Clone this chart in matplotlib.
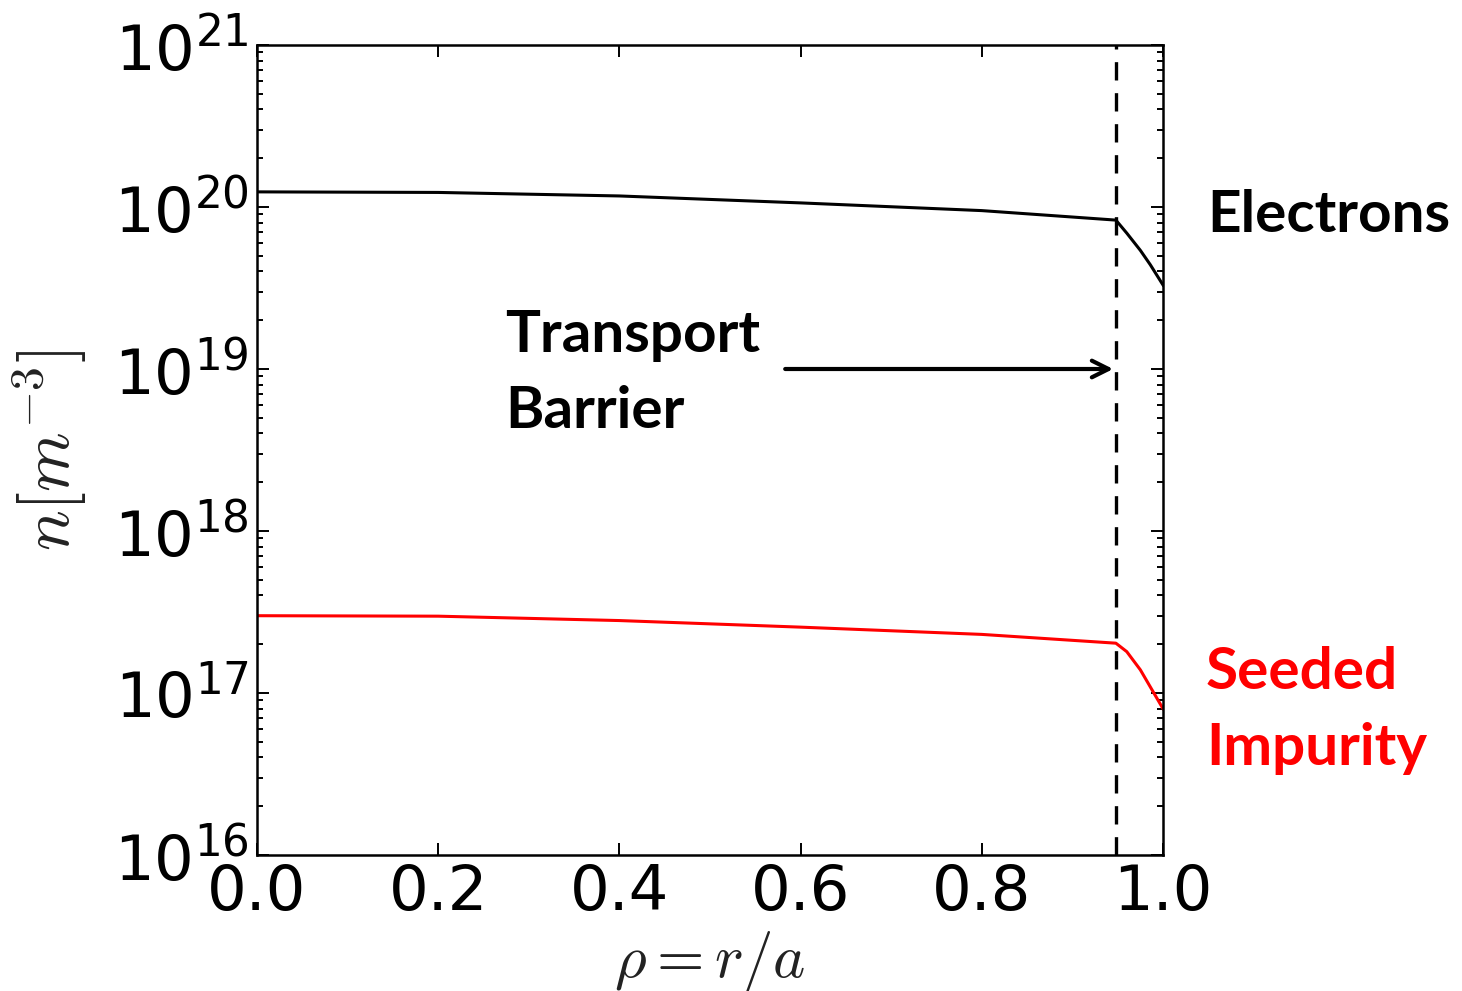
import numpy as np
import matplotlib
matplotlib.use("Agg")
import matplotlib.pyplot as plt

# radial density profiles, rho = r/a
rho = [0.0, 0.2, 0.4, 0.6, 0.8, 0.948, 0.96, 0.975, 0.986, 1.0]
n_e = [1.24e20, 1.23e20, 1.17e20, 1.06e20, 0.95e20, 8.3e19, 6.9e19, 5.4e19, 4.4e19, 3.3e19]
n_imp = [3.0e17, 2.98e17, 2.8e17, 2.55e17, 2.3e17, 2.03e17, 1.80e17, 1.39e17, 1.09e17, 0.80e17]
RHO_BARRIER = 0.948
XTICKS = [0.0, 0.2, 0.4, 0.6, 0.8, 1.0]

W, H = 1462, 991
fig = plt.figure(figsize=(W/100, H/100), dpi=100, facecolor="white")
ax = fig.add_axes([257/W, 1-855/H, (1163-257)/W, (855-45)/H])

ax.plot(rho, n_e, color="black", lw=2.2)
ax.plot(rho, n_imp, color="red", lw=2.2)
ax.axvline(RHO_BARRIER, color="black", lw=2.4, dashes=(5.5, 3.8))

ax.set_yscale("log")
ax.set_xlim(0, 1.0)
ax.set_ylim(1e16, 1e21)
ax.set_xticks(XTICKS)
ax.set_xticklabels([f"{t:.1f}" for t in XTICKS])

ax.tick_params(which="both", direction="in", top=True, right=True, labelsize=45, width=1.4)
ax.tick_params(which="major", length=8.5, pad=6)
ax.tick_params(which="minor", length=4.5)
for sp in ax.spines.values():
    sp.set_linewidth(1.8)

ax.set_xlabel(r"$\rho = r/a$", fontsize=44, math_fontfamily="cm", labelpad=4, color="#222222")
ax.set_ylabel(r"$n[m^{-3}]$", fontsize=49, math_fontfamily="cm", labelpad=18, color="#222222")

ax.annotate("", xy=(RHO_BARRIER - 0.003, 1e19), xytext=(0.583, 1e19),
            arrowprops=dict(arrowstyle="->", lw=3.0, color="black",
                            mutation_scale=30, shrinkA=0, shrinkB=0))

lab = dict(family=["Lato", "DejaVu Sans"], fontweight="bold", fontsize=42, va="baseline")
fig.text(505/W, 1-352/H, "Transport", color="black", **lab)
fig.text(505/W, 1-428/H, "Barrier", color="black", **lab)
fig.text(1207/W, 1-232/H, "Electrons", color="black", **lab)
fig.text(1206/W, 1-689/H, "Seeded", color="#ff0000", **lab)
fig.text(1206/W, 1-765/H, "Impurity", color="#ff0000", **lab)

fig.savefig("out.png", dpi=100, facecolor="white")
